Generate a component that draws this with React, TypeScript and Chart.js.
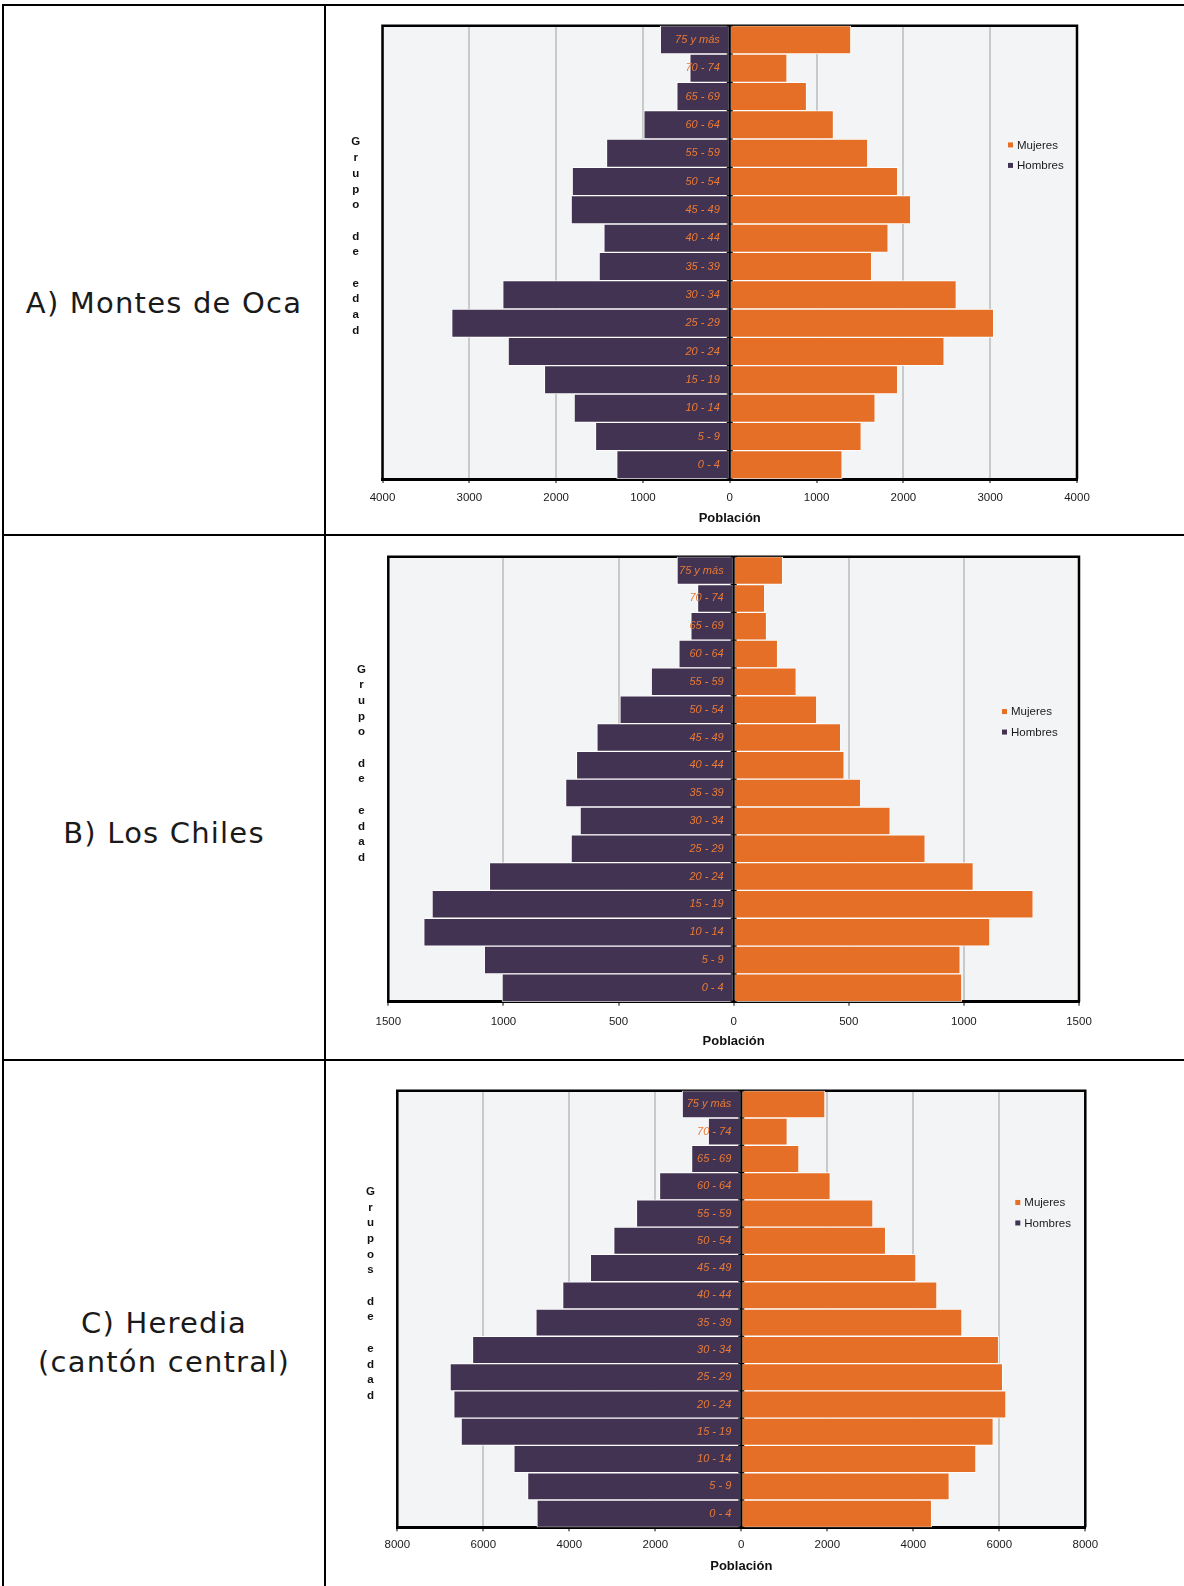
import React, { useEffect, useRef } from 'react';
import { Chart, registerables } from 'chart.js';

Chart.register(...registerables);

// ---------- DATA ----------
const AGE_GROUPS = ['75 y más', '70 - 74', '65 - 69', '60 - 64', '55 - 59', '50 - 54', '45 - 49', '40 - 44', '35 - 39', '30 - 34', '25 - 29', '20 - 24', '15 - 19', '10 - 14', '5 - 9', '0 - 4'];

const MONTES_HOMBRES = [800, 460, 610, 990, 1420, 1815, 1827, 1450, 1505, 2615, 3203, 2553, 2135, 1793, 1547, 1302];
const MONTES_MUJERES = [1395, 660, 885, 1195, 1590, 1935, 2085, 1825, 1635, 2610, 3040, 2470, 1935, 1675, 1515, 1295];

const CHILES_HOMBRES = [246, 157, 186, 238, 358, 494, 594, 683, 730, 667, 706, 1061, 1310, 1346, 1083, 1006];
const CHILES_MUJERES = [213, 135, 143, 191, 272, 361, 465, 480, 552, 680, 832, 1041, 1301, 1113, 984, 991];

const HEREDIA_HOMBRES = [1375, 769, 1157, 1903, 2439, 2967, 3511, 4155, 4777, 6252, 6773, 6687, 6516, 5289, 4971, 4753];
const HEREDIA_MUJERES = [1946, 1070, 1341, 2070, 3062, 3357, 4062, 4550, 5132, 5984, 6078, 6155, 5860, 5457, 4837, 4426];

const MONTES_AXIS = [4000, 1000];
const CHILES_AXIS = [1500, 500];
const HEREDIA_AXIS = [8000, 2000];

const ROW_LABELS = ['A) Montes de Oca', 'B) Los Chiles', 'C) Heredia\n(cantón central)'];
const Y_TITLES = ['Grupo de edad', 'Grupo de edad', 'Grupos de edad'];

// ---------- STYLE ----------
const HOMBRES_COLOR = '#433352';
const MUJERES_COLOR = '#e56f26';
const LABEL_COLOR = '#ea7a34';
const PLOT_BG = '#f3f4f6';
const GRID_COLOR = '#c9c9c9';
const FONT = "'Liberation Sans', Arial, sans-serif";

const pyramidPlugin = {
  id: 'pyramid',
  beforeDraw(chart: any) {
    const { ctx, chartArea: a } = chart;
    ctx.save();
    ctx.fillStyle = PLOT_BG;
    ctx.fillRect(a.left, a.top, a.right - a.left, a.bottom - a.top);
    ctx.restore();
  },
  beforeDatasetsDraw(chart: any) {
    const { ctx, chartArea: a } = chart;
    ctx.save();
    ctx.strokeStyle = '#000';
    ctx.lineWidth = 2.5;
    ctx.beginPath();
    ctx.moveTo(a.left, a.bottom);
    ctx.lineTo(a.left, a.top);
    ctx.lineTo(a.right, a.top);
    ctx.lineTo(a.right, a.bottom);
    ctx.stroke();
    ctx.restore();
  },
  afterDatasetsDraw(chart: any, _args: any, opts: any) {
    const { ctx, chartArea: a, scales } = chart;
    const xs = scales.x;
    const ys = scales.y;
    const x0 = xs.getPixelForValue(0);
    const labels: string[] = chart.data.labels;
    const n = labels.length;
    ctx.save();
    // zero axis with category tick marks
    ctx.strokeStyle = '#000';
    ctx.lineWidth = 2;
    ctx.beginPath();
    ctx.moveTo(x0, a.top);
    ctx.lineTo(x0, a.bottom);
    ctx.stroke();
    ctx.lineWidth = 1.2;
    for (let i = 0; i <= n; i++) {
      const y = ys.getPixelForValue(i - 0.5);
      ctx.beginPath();
      ctx.moveTo(x0 - 3, y);
      ctx.lineTo(x0 + 3, y);
      ctx.stroke();
    }
    // category labels
    ctx.font = `italic 11px ${FONT}`;
    ctx.fillStyle = LABEL_COLOR;
    ctx.textAlign = 'right';
    ctx.textBaseline = 'middle';
    labels.forEach((l, i) => ctx.fillText(l, x0 - 10, ys.getPixelForValue(i)));
    // legend
    const lx = a.right - opts.legendRight;
    const ly = a.top + opts.legendYFrac * (a.bottom - a.top);
    ctx.font = `11.5px ${FONT}`;
    ctx.textAlign = 'left';
    chart.data.datasets.forEach((ds: any, k: number) => {
      const y = ly + k * 20.5;
      ctx.fillStyle = ds.backgroundColor;
      ctx.fillRect(lx, y - 2.5, 5, 5);
      ctx.fillStyle = '#1a1a1a';
      ctx.fillText(ds.label, lx + 9, y + 0.5);
    });
    // stacked y title
    const chars = String(opts.yTitle).split('');
    const step = 15.7;
    const cy = a.top + 0.465 * (a.bottom - a.top);
    const xt = a.left - 26.8;
    ctx.font = `bold 11.5px ${FONT}`;
    ctx.fillStyle = '#111';
    ctx.textAlign = 'center';
    chars.forEach((c, i) => {
      if (c.trim()) ctx.fillText(c, xt, cy + (i - (chars.length - 1) / 2) * step);
    });
    ctx.restore();
  },
};

type PyramidProps = {
  left: number; top: number; width: number; height: number;
  pad: { left: number; right: number; top: number };
  xHeight: number; tickPad: number; titlePad: number;
  hombres: number[]; mujeres: number[]; axis: number[];
  legendRight: number; legendYFrac: number; yTitle: string;
};

function Pyramid(p: PyramidProps) {
  const ref = useRef<HTMLCanvasElement | null>(null);
  useEffect(() => {
    if (!ref.current) return;
    const [maxV, step] = p.axis;
    const chart = new Chart(ref.current, {
      type: 'bar',
      data: {
        labels: AGE_GROUPS,
        datasets: [
          { label: 'Mujeres', data: p.mujeres, backgroundColor: MUJERES_COLOR, borderColor: 'rgba(255,255,255,0.9)', borderWidth: 1, barPercentage: 1, categoryPercentage: 1 },
          { label: 'Hombres', data: p.hombres.map((v) => -v), backgroundColor: HOMBRES_COLOR, borderColor: 'rgba(255,255,255,0.9)', borderWidth: 1, barPercentage: 1, categoryPercentage: 1 },
        ],
      },
      options: {
        indexAxis: 'y',
        responsive: false,
        maintainAspectRatio: false,
        animation: false,
        layout: { padding: { left: p.pad.left, right: p.pad.right, top: p.pad.top, bottom: 0 } },
        plugins: {
          legend: { display: false },
          tooltip: { enabled: false },
          pyramid: { legendRight: p.legendRight, legendYFrac: p.legendYFrac, yTitle: p.yTitle },
        } as any,
        scales: {
          x: {
            type: 'linear',
            stacked: true,
            min: -maxV,
            max: maxV,
            ticks: {
              stepSize: step,
              autoSkip: false,
              maxRotation: 0,
              padding: p.tickPad,
              color: '#1a1a1a',
              font: { family: FONT, size: 11.5 },
              callback: (v: any) => String(Math.abs(Number(v))),
            },
            grid: { color: GRID_COLOR, lineWidth: 2, tickLength: 4, tickColor: '#000', tickWidth: 1 },
            border: { display: true, color: '#000', width: 3 },
            title: {
              display: true,
              text: 'Población',
              color: '#111',
              font: { family: FONT, size: 13, weight: 'bold' },
              padding: { top: 0, bottom: p.titlePad },
            },
            afterFit: (s: any) => { s.height = p.xHeight; },
          } as any,
          y: { type: 'category', stacked: true, display: false, offset: true },
        },
      },
      plugins: [pyramidPlugin as any],
    });
    return () => chart.destroy();
  }, []);
  return (
    <canvas
      ref={ref}
      width={p.width}
      height={p.height}
      style={{ position: 'absolute', left: p.left, top: p.top, width: p.width, height: p.height }}
    />
  );
}

const line = (l: number, t: number, w: number, h: number) => (
  <div style={{ position: 'absolute', left: l, top: t, width: w, height: h, background: '#000', zIndex: 2 }} />
);

function RowLabel({ text, cy, lh }: { text: string; cy: number; lh: number }) {
  const lines = text.split('\n');
  const h = lines.length * lh;
  return (
    <div
      style={{
        position: 'absolute', left: 4, width: 320, top: cy - h / 2, height: h,
        textAlign: 'center', fontFamily: "'DejaVu Sans', sans-serif", fontSize: 29,
        letterSpacing: 1.2, lineHeight: `${lh}px`, color: '#1a1a1a', whiteSpace: 'pre',
      }}
    >
      {lines.map((s, i) => <div key={i}>{s}</div>)}
    </div>
  );
}

export default function App() {
  return (
    <div style={{ position: 'absolute', left: 0, top: 0, width: 1184, height: 1586, overflow: 'hidden', background: '#fff' }}>
      {line(2, 4, 1182, 2)}
      {line(2, 534, 1182, 2)}
      {line(2, 1059, 1182, 2)}
      {line(2, 4, 2, 1582)}
      {line(324, 4, 2, 1582)}

      <RowLabel text={ROW_LABELS[0]} cy={303} lh={40} />
      <RowLabel text={ROW_LABELS[1]} cy={833} lh={40} />
      <RowLabel text={ROW_LABELS[2]} cy={1343} lh={39} />

      <Pyramid
        left={330} top={10} width={854} height={525}
        pad={{ left: 52.5, right: 107, top: 15.7 }}
        xHeight={56} tickPad={7.8} titlePad={9.2}
        hombres={MONTES_HOMBRES} mujeres={MONTES_MUJERES} axis={MONTES_AXIS}
        legendRight={69} legendYFrac={0.263} yTitle={Y_TITLES[0]}
      />
      <Pyramid
        left={330} top={537} width={854} height={523}
        pad={{ left: 58.3, right: 105, top: 19.7 }}
        xHeight={58.3} tickPad={9.1} titlePad={11.2}
        hombres={CHILES_HOMBRES} mujeres={CHILES_MUJERES} axis={CHILES_AXIS}
        legendRight={77} legendYFrac={0.348} yTitle={Y_TITLES[1]}
      />
      <Pyramid
        left={330} top={1063} width={854} height={523}
        pad={{ left: 67.3, right: 98.7, top: 27.7 }}
        xHeight={58.7} tickPad={6.8} titlePad={12.2}
        hombres={HEREDIA_HOMBRES} mujeres={HEREDIA_MUJERES} axis={HEREDIA_AXIS}
        legendRight={70} legendYFrac={0.256} yTitle={Y_TITLES[2]}
      />
    </div>
  );
}
